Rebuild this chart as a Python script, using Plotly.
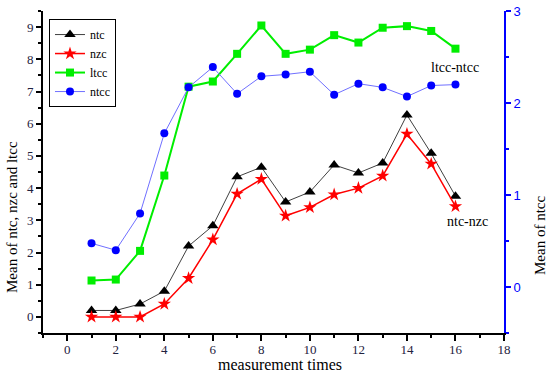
import plotly.graph_objects as go

times = list(range(1, 17))
ntc = [0.2, 0.2, 0.4, 0.8, 2.2, 2.83, 4.35, 4.65, 3.57, 3.88, 4.72, 4.47, 4.78, 6.27, 5.08, 3.75]
nzc = [0.0, 0.0, 0.0, 0.4, 1.2, 2.4, 3.82, 4.28, 3.14, 3.4, 3.8, 4.0, 4.38, 5.68, 4.75, 3.43]
ltcc = [1.13, 1.16, 2.05, 4.39, 7.15, 7.31, 8.17, 9.05, 8.17, 8.3, 8.75, 8.52, 8.98, 9.03, 8.88, 8.33]
ntcc = [0.475, 0.40, 0.80, 1.67, 2.17, 2.39, 2.10, 2.29, 2.31, 2.34, 2.09, 2.21, 2.17, 2.07, 2.19, 2.20]

SERIF = "Liberation Serif"
TICKC = "#1f2240"

fig = go.Figure()
fig.add_trace(go.Scatter(x=times, y=ntc, name="ntc", mode="lines+markers",
                         line=dict(color="#404040", width=1),
                         marker=dict(symbol="triangle-up", size=10, color="black")))
fig.add_trace(go.Scatter(x=times, y=nzc, name="nzc", mode="lines+markers",
                         line=dict(color="#ff0000", width=1.5),
                         marker=dict(symbol="star", size=10, color="#ff0000")))
fig.add_trace(go.Scatter(x=times, y=ltcc, name="ltcc", mode="lines+markers",
                         line=dict(color="#00ee00", width=2),
                         marker=dict(symbol="square", size=8, color="#00ee00")))
fig.add_trace(go.Scatter(x=times, y=ntcc, name="ntcc", mode="lines+markers", yaxis="y2",
                         line=dict(color="#7070ff", width=1),
                         marker=dict(symbol="circle", size=8, color="#0000ff")))

fig.add_annotation(x=16.0, y=7.76, text="ltcc-ntcc", showarrow=False,
                   xanchor="center", yanchor="middle",
                   font=dict(family=SERIF, size=14, color="black"))
fig.add_annotation(x=16.5, y=2.96, text="ntc-nzc", showarrow=False,
                   xanchor="center", yanchor="middle",
                   font=dict(family=SERIF, size=14, color="black"))

# axis titles placed as annotations
fig.add_annotation(xref="paper", yref="paper", x=(12 - 43) / 461, y=(333 - 217) / 322,
                   xanchor="center", yanchor="middle",
                   text="Mean of ntc, nzc and ltcc", textangle=-90, showarrow=False,
                   font=dict(family=SERIF, size=15, color="black"))
fig.add_annotation(xref="paper", yref="paper", x=(540 - 43) / 461, y=(333 - 236) / 322,
                   xanchor="center", yanchor="middle",
                   text="Mean of ntcc", textangle=-90, showarrow=False,
                   font=dict(family=SERIF, size=15, color="black"))
fig.add_annotation(xref="paper", yref="paper", x=(280 - 43) / 461, y=(333 - 364) / 322,
                   xanchor="center", yanchor="middle",
                   text="measurement times", showarrow=False,
                   font=dict(family=SERIF, size=16, color="black"))

fig.update_layout(
    width=550, height=373,
    margin=dict(l=43, r=46, t=11, b=40),
    plot_bgcolor="white", paper_bgcolor="white",
    font=dict(family=SERIF, size=12, color="black"),
    showlegend=True,
    legend=dict(x=0.013, y=0.975, xanchor="left", yanchor="top",
                bordercolor="black", borderwidth=1, bgcolor="white",
                font=dict(family=SERIF, size=12, color="black"),
                tracegroupgap=0, itemwidth=30),
    xaxis=dict(range=[-1, 18], tickvals=[0, 2, 4, 6, 8, 10, 12, 14, 16, 18], automargin=False,
               showline=True, linecolor="black", linewidth=2, ticks="outside",
               ticklen=6, tickwidth=1.5, tickcolor="black", showgrid=False, zeroline=False,
               ticklabelstandoff=-3,
               minor=dict(tickvals=[-1, 1, 3, 5, 7, 9, 11, 13, 15, 17], ticks="outside",
                          ticklen=3, tickcolor="black", showgrid=False),
               tickfont=dict(family=SERIF, size=13, color=TICKC)),
    yaxis=dict(range=[-0.5, 9.5], tickvals=list(range(0, 10)), automargin=False,
               showline=True, linecolor="black", linewidth=2, ticks="outside",
               ticklen=5, tickwidth=1.5, tickcolor="black", showgrid=False, zeroline=False,
               minor=dict(tickvals=[-0.5 + i for i in range(11)], ticks="outside",
                          ticklen=3, tickcolor="black", showgrid=False),
               tickfont=dict(family=SERIF, size=13, color=TICKC)),
    yaxis2=dict(range=[-0.5, 3.0], tickvals=[0, 1, 2, 3], overlaying="y", side="right",
                automargin=False,
                showline=True, linecolor="#0000ff", linewidth=2, ticks="outside",
                ticklen=5, tickwidth=1.5, tickcolor="#0000ff", showgrid=False, zeroline=False,
                minor=dict(tickvals=[-0.5, 0.5, 1.5, 2.5], ticks="outside",
                           ticklen=3, tickcolor="#0000ff", showgrid=False),
                tickfont=dict(family="Liberation Sans", size=13, color="#0000ff")),
)

fig.write_html("out.html", config={"displayModeBar": False},
               post_script="document.body.style.margin='0';document.body.style.overflow='hidden';")
